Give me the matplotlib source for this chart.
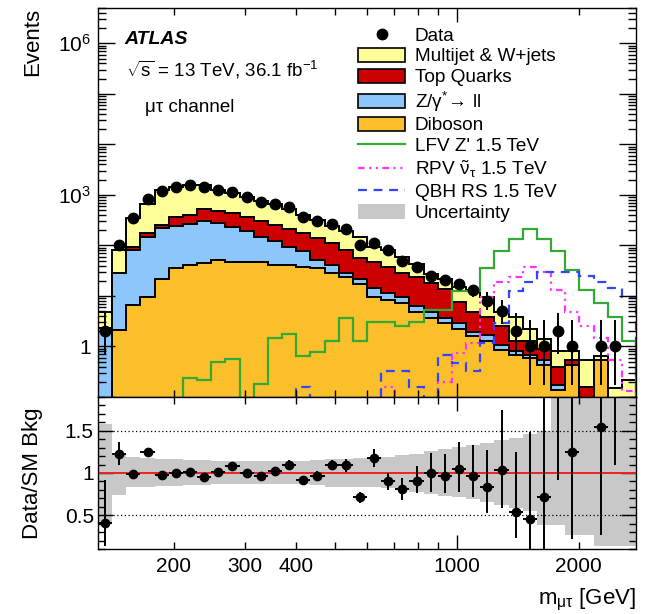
import numpy as np
import matplotlib.pyplot as plt
from matplotlib import ticker
from matplotlib.patches import Patch
from matplotlib.lines import Line2D

plt.rcParams['font.family'] = ['Liberation Sans', 'DejaVu Sans']
plt.rcParams['mathtext.fontset'] = 'custom'
plt.rcParams['mathtext.rm'] = 'Liberation Sans'
plt.rcParams['mathtext.it'] = 'Liberation Sans:italic'
plt.rcParams['mathtext.bf'] = 'Liberation Sans:bold'
plt.rcParams['mathtext.default'] = 'regular'

# m_mutau binning [GeV], 38 log bins
edges = np.geomspace(130, 2770, 39)

data = [2, 102, 346, 822, 1216, 1420, 1575, 1460, 1260, 1160,
        925, 736, 664, 570, 372, 311, 268, 211, 102, 110,
        82, 50, 38, 25, 21, 17, 13, 8, 5, 2,
        1, 1, 2, 1, 0, 1, 1, 0]
diboson = [0.05, 2.1, 6.7, 9.7, 22, 35, 41, 45, 52, 48,
           48, 46, 41, 41, 38, 35, 28, 24, 17, 9.7,
           8.4, 7.2, 4.9, 3.6, 2.9, 2.2, 1.6, 1.26, 0.86, 0.68,
           0.60, 0.43, 0.14, 0.43, 0, 0.55, 0, 0]
zll = [2.25, 25.9, 75, 135, 197, 209, 227, 265, 232, 182,
       141, 99, 79, 54, 38, 17, 13, 5, 5, 4.8,
       3.0, 2.5, 1.5, 1.3, 0.8, 0.7, 0.3, 0.44, 0.22, 0.12,
       0.08, 0.12, 0.03, 0, 0, 0, 0, 0]
top = [0, 0, 13, 30, 37, 128, 135, 212, 197, 205,
       183, 165, 136, 115, 99, 87, 73, 53, 34, 33.5,
       26.6, 18.3, 17.6, 13.1, 10.3, 4.6, 3.0, 2.2, 1.42, 0.46,
       0.58, 0.35, 0.23, 0.12, 0.16, 0, 0, 0]
multijet = [2.6, 55, 255, 495, 984, 1048, 1157, 1015, 767, 639,
            553, 457, 395, 308, 229, 185, 132, 112, 88, 45,
            42, 32, 18, 9, 8, 7.5, 8.1, 5.5, 2.3, 2.6,
            0.94, 0.5, 0.4, 0.25, 0.39, 0.1, 0.15, 0.22]

lfv_zp = [0, 0, 0, 0, 0, 0, 0.24, 0.22, 0.5, 0.57,
          0, 0.18, 1.5, 1.76, 0.66, 0.77, 1.3, 3.6, 1.26, 3.1,
          3.1, 2.5, 3.1, 5.3, 5.3, 12.3, 12.3, 35.5, 76, 133,
          210, 133, 76, 33, 13.2, 7.2, 3.9, 1.26]
rpv_snu = [0, 0, 0, 0, 0, 0, 0, 0, 0, 0,
           0, 0, 0, 0, 0, 0, 0, 0, 0, 0,
           0.16, 0, 0, 0, 0.2, 0.74, 1.17, 9.7, 19.3, 24,
           38, 30, 13.2, 4.9, 2.5, 1.47, 0.55, 0.13]
qbh_rs = [0, 0, 0, 0, 0, 0, 0, 0, 0, 0,
          0, 0, 0, 0, 0.16, 0, 0, 0, 0, 0,
          0.32, 0.32, 0.16, 0, 0.69, 0.47, 0.32, 1.17, 2.9, 12.3,
          19.3, 30, 30, 30, 25, 19.3, 14.3, 9.7]

# Data / SM background, with error bar ends
ratio = [0.41, 1.23, 0.99, 1.25, 0.98, 1.00, 1.01, 0.95, 1.01, 1.08,
         1.00, 0.96, 1.02, 1.10, 0.92, 0.96, 1.09, 1.09, 0.71, 1.18,
         0.90, 0.81, 0.91, 1.00, 0.97, 1.05, 0.97, 0.84, 1.03, 0.54,
         0.46, 0.71, 2.5, 1.25, np.nan, 1.55, 6.7, np.nan]
ratio_lo = [0.14, 1.09, 0.94, 1.21, 0.95, 0.97, 0.98, 0.92, 0.98, 1.05,
            0.97, 0.92, 0.98, 1.05, 0.87, 0.90, 1.03, 1.01, 0.64, 1.07,
            0.80, 0.68, 0.76, 0.78, 0.76, 0.77, 0.71, 0.53, 0.58, 0.23,
            0.05, 0.05, 0.92, 0.22, np.nan, 0.26, 1.09, np.nan]
ratio_hi = [0.92, 1.37, 1.04, 1.29, 1.01, 1.03, 1.04, 0.98, 1.04, 1.11,
            1.03, 1.00, 1.06, 1.15, 0.97, 1.02, 1.15, 1.17, 0.78, 1.29,
            1.00, 0.94, 1.08, 1.24, 1.23, 1.37, 1.33, 1.27, 1.75, 1.25,
            1.49, 2.5, 6.0, 3.0, np.nan, 3.0, 20, np.nan]

# systematic band on the ratio
unc_lo = [0.42, 0.74, 0.83, 0.84, 0.85, 0.85, 0.86, 0.86, 0.87, 0.87,
          0.87, 0.87, 0.87, 0.87, 0.87, 0.86, 0.84, 0.84, 0.83, 0.83,
          0.82, 0.80, 0.78, 0.75, 0.73, 0.71, 0.69, 0.66, 0.62, 0.58,
          0.55, 0.38, 0.38, 0.26, 0.26, 0.14, 0.14, 0.14]
unc_hi = [1.58, 1.21, 1.19, 1.18, 1.17, 1.16, 1.15, 1.15, 1.14, 1.14,
          1.14, 1.14, 1.14, 1.14, 1.14, 1.15, 1.17, 1.17, 1.18, 1.18,
          1.19, 1.21, 1.23, 1.26, 1.28, 1.31, 1.33, 1.36, 1.39, 1.42,
          1.46, 1.50, 2.5, 2.5, 2.5, 2.5, 2.5, 2.5]

# Poisson intervals for low counts
small_n_err = {1: (0.83, 2.30), 2: (1.29, 2.64), 5: (2.16, 3.38), 8: (2.77, 3.94)}

centers = np.sqrt(edges[:-1] * edges[1:])
data = np.array(data, dtype=float)

col_mj = '#ffff99'
col_top = '#cc0000'
col_z = '#8cc6fa'
col_db = '#fcbf2c'
col_unc = '#c8c8c8'

fig = plt.figure(figsize=(6.51, 6.14), dpi=100)
ax1 = fig.add_axes([0.1505, 0.3534, 0.8265, 0.6336])
ax2 = fig.add_axes([0.1505, 0.1059, 0.8265, 0.2475], sharex=ax1)

# stacked backgrounds, drawn top layer first
floor = 1e-3
c1 = np.array(diboson)
c2 = c1 + np.array(zll)
c3 = c2 + np.array(top)
c4 = c3 + np.array(multijet)
for cum, col in [(c4, col_mj), (c3, col_top), (c2, col_z), (c1, col_db)]:
    ax1.stairs(np.maximum(cum, floor), edges, baseline=floor, fill=True,
               facecolor=col, edgecolor='black', linewidth=1.4)

ax1.stairs(lfv_zp, edges, color='#33aa33', linewidth=1.6)
ax1.stairs(rpv_snu, edges, color='#ff33ff', linewidth=1.6, linestyle=(0, (3, 2, 1, 2, 1, 2)))
ax1.stairs(qbh_rs, edges, color='#3344ff', linewidth=1.6, linestyle=(0, (4, 3)))

# data
has = data > 0
elo = np.sqrt(data)
ehi = np.sqrt(data)
for i, n in enumerate(data):
    if n in small_n_err:
        elo[i], ehi[i] = small_n_err[n]
ax1.errorbar(centers[has], data[has], yerr=[elo[has], ehi[has]], fmt='o', color='black',
             markersize=7.5, elinewidth=1.4, capsize=0)

ax1.set_xscale('log')
ax1.set_yscale('log')
ax1.set_xlim(edges[0], edges[-1])
ax1.set_ylim(0.1, 5e6)

ax1.yaxis.set_major_locator(ticker.LogLocator(base=10, numticks=20))
ax1.yaxis.set_minor_locator(ticker.LogLocator(base=10, subs=np.arange(2, 10), numticks=20))


def ylab(v, pos):
    if np.isclose(v, 1):
        return '1'
    if np.isclose(v, 1e3):
        return r'$10^{3}$'
    if np.isclose(v, 1e6):
        return r'$10^{6}$'
    return ''


ax1.yaxis.set_major_formatter(ticker.FuncFormatter(ylab))
ax1.yaxis.set_minor_formatter(ticker.NullFormatter())

for ax in (ax1, ax2):
    ax.xaxis.set_major_locator(ticker.FixedLocator([1000]))
    ax.xaxis.set_minor_locator(ticker.FixedLocator([200, 300, 400, 500, 600, 700, 800, 900, 2000]))
    ax.tick_params(which='both', direction='in', top=True, right=True, labelsize=15, width=1.0)
    ax.tick_params(axis='x', which='major', length=10)
    ax.tick_params(axis='x', which='minor', length=5)
    for s in ax.spines.values():
        s.set_linewidth(1.0)

ax1.tick_params(axis='y', which='major', length=12, pad=5)
ax1.tick_params(axis='y', which='minor', length=6)
ax1.tick_params(axis='x', which='both', labelbottom=False)

ax2.xaxis.set_major_formatter(ticker.FuncFormatter(lambda v, p: '%g' % v))
ax2.xaxis.set_minor_formatter(ticker.FuncFormatter(
    lambda v, p: '%g' % v if round(v) in (200, 300, 400, 2000) else ''))
ax2.tick_params(axis='x', which='both', pad=6)

ax1.set_ylabel('Events', fontsize=16, loc='top')
ax1.yaxis.set_label_coords(-0.102, 1.0)

ax1.text(0.05, 0.918, 'ATLAS', transform=ax1.transAxes, fontsize=14,
         fontweight='bold', fontstyle='italic', va='center')
ax1.text(0.052, 0.84, r'$\sqrt{s}$ = 13 TeV, 36.1 fb$^{-1}$', transform=ax1.transAxes,
         fontsize=13.5, va='center')
ax1.text(0.087, 0.743, 'μτ channel', transform=ax1.transAxes, fontsize=13.5, va='center')

handles = [
    Line2D([], [], marker='o', color='black', linestyle='none', markersize=7.5),
    Patch(facecolor=col_mj, edgecolor='black', linewidth=1.2),
    Patch(facecolor=col_top, edgecolor='black', linewidth=1.2),
    Patch(facecolor=col_z, edgecolor='black', linewidth=1.2),
    Patch(facecolor=col_db, edgecolor='black', linewidth=1.2),
    Line2D([], [], color='#33aa33', linewidth=1.6),
    Line2D([], [], color='#ff33ff', linewidth=1.6, linestyle=(0, (3, 2, 1, 2, 1, 2))),
    Line2D([], [], color='#3344ff', linewidth=1.6, linestyle=(0, (4, 3))),
    Patch(facecolor=col_unc, edgecolor='none'),
]
labels = ['Data', 'Multijet & W+jets', 'Top Quarks', r'Z/$\gamma^{*}\!\rightarrow\!$ ll', 'Diboson',
          "LFV Z' 1.5 TeV", r'RPV $\tilde{\nu}_{\tau}$ 1.5 TeV', 'QBH RS 1.5 TeV', 'Uncertainty']
ax1.legend(handles, labels, loc='upper left', bbox_to_anchor=(0.484, 0.952), frameon=False,
           fontsize=13.7, handlelength=2.45, handleheight=0.8, handletextpad=0.5,
           labelspacing=0.16, borderaxespad=0, borderpad=0)

# ratio panel
ax2.axhline(0.5, color='black', linestyle=(0, (1, 2)), linewidth=0.9)
ax2.axhline(1.5, color='black', linestyle=(0, (1, 2)), linewidth=0.9)
ax2.stairs(unc_hi, edges, baseline=unc_lo, fill=True, color=col_unc, linewidth=0)
ax2.axhline(1.0, color='#ee2222', linewidth=1.4)

r = np.array(ratio)
rl = np.array(ratio_lo)
rh = np.array(ratio_hi)
ok = ~np.isnan(r)
ax2.errorbar(centers[ok], r[ok], yerr=[r[ok] - rl[ok], rh[ok] - r[ok]],
             xerr=[centers[ok] - edges[:-1][ok], edges[1:][ok] - centers[ok]],
             fmt='o', color='black', markersize=6, elinewidth=1.4, capsize=0)

ax2.set_ylim(0.1, 1.9)
ax2.yaxis.set_major_locator(ticker.FixedLocator([0.5, 1.0, 1.5]))
ax2.yaxis.set_major_formatter(ticker.FuncFormatter(lambda v, p: '%g' % v))
ax2.yaxis.set_minor_locator(ticker.MultipleLocator(0.1))
ax2.tick_params(axis='y', which='major', length=11, pad=3)
ax2.tick_params(axis='y', which='minor', length=5)

ax2.set_ylabel('Data/SM Bkg', fontsize=16)
ax2.yaxis.set_label_coords(-0.102, 0.5)
ax2.set_xlabel(r'm$_{\mu\tau}$ [GeV]', fontsize=16, loc='right')
ax2.xaxis.set_label_coords(1.0, -0.25)

fig.savefig('out.png', dpi=100)
